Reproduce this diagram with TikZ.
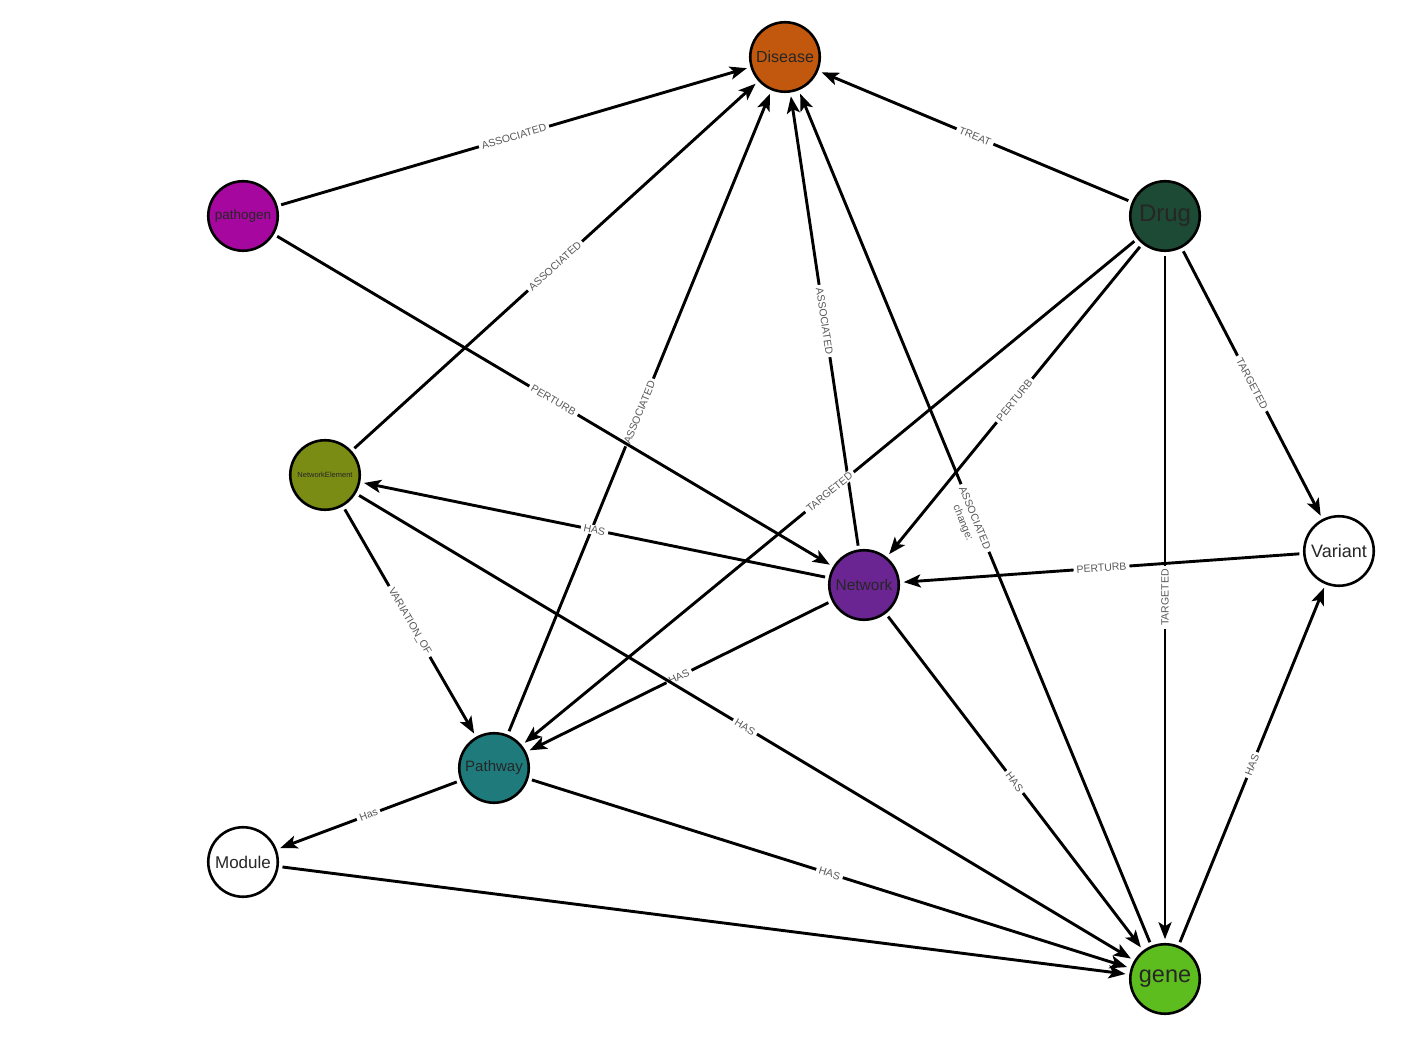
\documentclass[tikz,border=0pt]{standalone}
\usepackage{fontspec}
\setmainfont{Liberation Sans}
\usetikzlibrary{arrows.meta}
\definecolor{cdisease}{HTML}{C2580E}
\definecolor{cpathogen}{HTML}{A5079F}
\definecolor{cdrug}{HTML}{1D4A34}
\definecolor{cnetel}{HTML}{7B8C14}
\definecolor{cnetwork}{HTML}{6B2593}
\definecolor{cpathway}{HTML}{1F7A7C}
\definecolor{cgene}{HTML}{5EBD1E}
\newcommand{\fs}[1]{\fontsize{#1}{#1}\selectfont}
\begin{document}
\begin{tikzpicture}[x=1pt,y=1pt,>={Stealth[length=17pt,width=13pt,inset=4pt]},line width=2.9pt,
		ent/.style={circle,draw,line width=2.6pt,minimum size=69.5pt,inner sep=0pt,outer sep=5pt,text=black!85},
		lbl/.style={sloped,fill=white,inner xsep=3pt,inner ysep=1pt,text=black!65,font=\fs{10.5}}]
			\useasboundingbox (0,0) rectangle (1412,1040);
			\node[ent,fill=cdisease,font=\fs{16}] (disease) at (785,983) {Disease};
			\node[ent,fill=cpathogen,font=\fs{13.5}] (pathogen) at (243,824) {pathogen};
			\node[ent,fill=cdrug,font=\fs{24}] (drug) at (1165,824) {Drug};
			\node[ent,fill=cnetel,font=\fs{7.5}] (netel) at (325,565) {NetworkElement};
			\node[ent,fill=cnetwork,font=\fs{15.5}] (network) at (864,455) {Network};
			\node[ent,fill=white,font=\fs{18}] (variant) at (1339,489) {Variant};
			\node[ent,fill=cpathway,font=\fs{15}] (pathway) at (494,272) {Pathway};
			\node[ent,fill=white,font=\fs{17}] (module) at (243,178) {Module};
			\node[ent,fill=cgene,font=\fs{23.5}] (gene) at (1165,61) {gene};
			\draw[->] (pathogen) -- node[lbl]{ASSOCIATED} (disease);
			\draw[->] (netel) -- node[lbl]{ASSOCIATED} (disease);
			\draw[->] (pathway) -- node[lbl]{ASSOCIATED} (disease);
			\draw[->] (network) -- node[lbl]{ASSOCIATED} (disease);
			\draw[->] (gene) -- node[lbl]{ASSOCIATED} node[lbl,fill=none,below=6pt]{change:} (disease);
			\draw[->] (drug) -- node[lbl]{TREAT} (disease);
			\draw[->] (pathogen) -- node[lbl]{PERTURB} (network);
			\draw[->] (drug) -- node[lbl]{PERTURB} (network);
			\draw[->] (variant) -- node[lbl]{PERTURB} (network);
			\draw[->] (drug) -- node[lbl]{TARGETED} (pathway);
			\draw[->] (drug) -- node[lbl,rotate=180]{TARGETED} (gene);
			\draw[->] (drug) -- node[lbl]{TARGETED} (variant);
			\draw[->] (network) -- node[lbl]{HAS} (netel);
			\draw[->] (network) -- node[lbl]{HAS} (pathway);
			\draw[->] (network) -- node[lbl]{HAS} (gene);
			\draw[->] (netel) -- node[lbl]{VARIATION\_OF} (pathway);
			\draw[->] (netel) -- node[lbl]{HAS} (gene);
			\draw[->] (pathway) -- node[lbl]{Has} (module);
			\draw[->] (pathway) -- node[lbl]{HAS} (gene);
			\draw[->] (module) -- (gene);
			\draw[->] (gene) -- node[lbl]{HAS} (variant);
	\end{tikzpicture}
\end{document}
